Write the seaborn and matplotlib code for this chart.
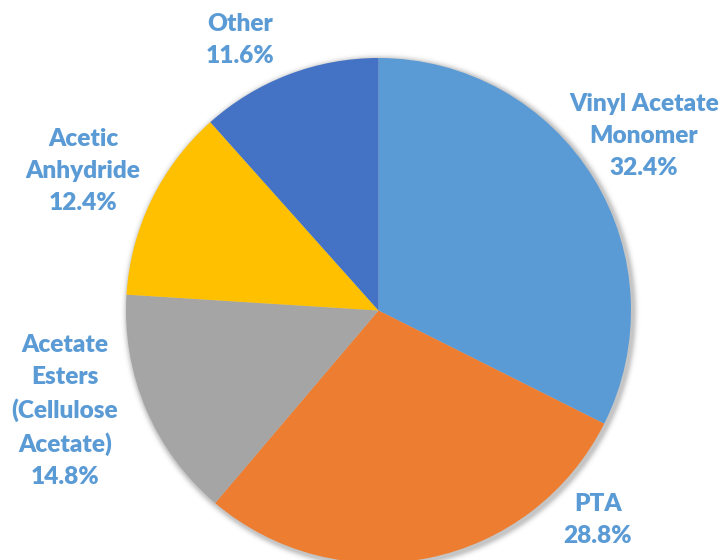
import numpy as np
import matplotlib
matplotlib.use("Agg")
import matplotlib.pyplot as plt
import seaborn as sns

# Global acetic acid demand by end use (%)
categories = ["Vinyl Acetate\nMonomer", "PTA", "Acetate\nEsters\n(Cellulose\nAcetate)",
              "Acetic\nAnhydride", "Other"]
shares = [32.4, 28.8, 14.8, 12.4, 11.6]
slice_colors = ["#5B9BD5", "#ED7D31", "#A5A5A5", "#FFC000", "#4472C4"]

# Label anchor points (pixel space, origin at top-left)
label_xy = [(644, 136), (598, 520), (65, 411), (83, 171), (240, 40)]

sns.set_theme(style="white")
plt.rcParams["font.family"] = ["Lato", "DejaVu Sans"]

W, H = 720, 560
fig = plt.figure(figsize=(W / 100, H / 100), dpi=100)
ax = fig.add_axes([0, 0, 1, 1])

cx, cy, r = 378.5, H - 310.5, 252.5

# Soft drop shadow behind the pie
yy, xx = np.mgrid[0:H, 0:W]
d = np.hypot(xx + 0.5 - (cx + 2), (H - yy - 0.5) - (cy - 2)) - r
alpha = np.where(d < 0, 0.35, 0.35 * np.exp(-(d / 4.0) ** 2))
shadow = np.zeros((H, W, 4))
shadow[..., :3] = 0.35
shadow[..., 3] = alpha
ax.imshow(shadow, extent=(0, W, 0, H), origin="upper", zorder=0, interpolation="bilinear")

palette = sns.color_palette(slice_colors)
ax.pie(shares, colors=palette, startangle=90, counterclock=False,
       center=(cx, cy), radius=r, wedgeprops=dict(linewidth=0, zorder=1))

for name, val, (lx, ly) in zip(categories, shares, label_xy):
    ax.text(lx, H - ly, f"{name}\n{val:.1f}%", ha="center", va="center",
            color="#5B9BD5", fontsize=17.6, fontweight="heavy", linespacing=1.54,
            zorder=3)

ax.set_xlim(0, W)
ax.set_ylim(0, H)
ax.set_aspect("auto")
ax.axis("off")
fig.savefig("out.png", dpi=100, facecolor="white")
